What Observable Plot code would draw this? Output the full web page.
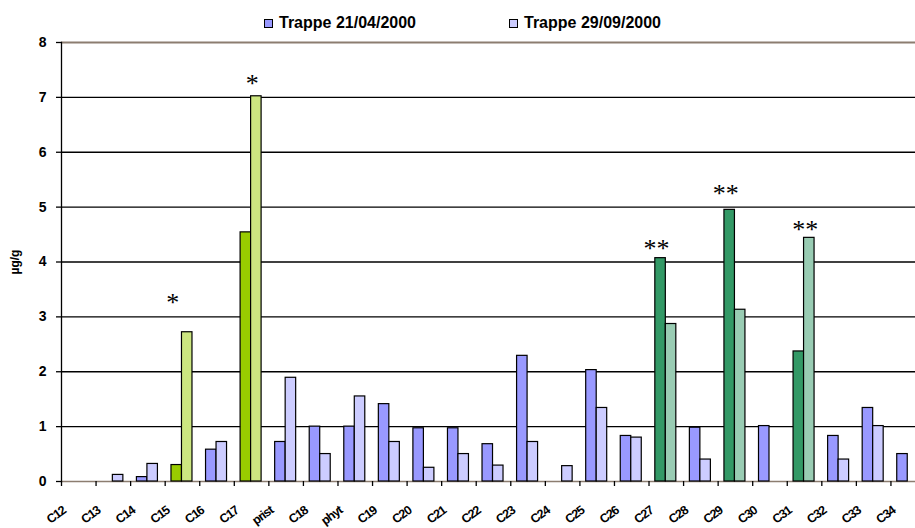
<!DOCTYPE html>
<html>
<head>
<meta charset="utf-8">
<script src="https://cdn.jsdelivr.net/npm/d3@7"></script>
<script src="https://cdn.jsdelivr.net/npm/@observablehq/plot@0.6"></script>
<style>
  html, body { margin: 0; padding: 0; background: #fff; }
  #wrap { position: relative; width: 915px; height: 528px; overflow: hidden; font-family: "Liberation Sans", Arial, sans-serif; }
  #chart { position: absolute; left: 0; top: 0; }
  .lg { position: absolute; top: 14px; font-weight: bold; font-size: 16px; color: #000; display: flex; align-items: center; white-space: nowrap; }
  .sw { display: inline-block; width: 7px; height: 7px; border: 1px solid #000; margin-right: 6px; }
</style>
</head>
<body>
<div id="wrap">
  <div id="chart"></div>
  <div id="legend"></div>
</div>
<script>
// ---- data ----
const categories = ["C12","C13","C14","C15","C16","C17","prist","C18","phyt","C19","C20","C21","C22","C23","C24","C25","C26","C27","C28","C29","C30","C31","C32","C33","C34"];
const seriesNames = ["Trappe 21/04/2000", "Trappe 29/09/2000"];
const april     = [0, 0,    0.08, 0.30, 0.58, 4.54, 0.72, 1.00, 1.00, 1.41, 0.97, 0.97, 0.68, 2.29, 0,    2.03, 0.83, 4.07, 0.98, 4.95, 1.01, 2.37, 0.83, 1.34, 0.50];
const september = [0, 0.12, 0.32, 2.72, 0.72, 7.02, 1.89, 0.50, 1.55, 0.72, 0.25, 0.50, 0.29, 0.72, 0.28, 1.34, 0.80, 2.87, 0.40, 3.13, 0,    4.44, 0.40, 1.01, 0];
const highlightGroup = {C15: "lime", C17: "lime", C27: "green", C29: "green", C31: "green"};
const yTicks = [0, 1, 2, 3, 4, 5, 6, 7, 8];
const starCategories = ["C15", "C17", "C27", "C29", "C31"];
const starSeries     = [0, 1, 0, 0, 1];
const starValues     = [3.34, 7.33, 4.32, 5.32, 4.66];
const starLabels     = ["*", "*", "**", "**", "**"];

// ---- styles ----
const palette = {
  blue:  ["#9999FF", "#CCCCFF"],
  lime:  ["#99CC00", "#CCE680"],
  green: ["#339966", "#99CCB3"]
};

const rows = categories.map((c, i) => ({
  category: c,
  group: highlightGroup[c] || "blue",
  v0: april[i],
  v1: september[i]
}));
const stars = starCategories.map((c, i) => ({category: c, series: starSeries[i], y: starValues[i], label: starLabels[i]}));

const W = 915, H = 528;
const ML = 61, MR = -10, MT = 42, MB = 47;
const step = (W - ML - MR) / categories.length;
const barW = 10.5, off0 = 6.3;
const inset0 = {insetLeft: off0, insetRight: step - off0 - barW};
const inset1 = {insetLeft: off0 + barW, insetRight: step - off0 - 2 * barW};
const center0 = off0 + barW / 2 - step / 2;
const center1 = off0 + barW * 1.5 - step / 2;
const serif = "'Liberation Serif', 'Times New Roman', serif";
const LABEL_ANGLE = -36;

const chart = Plot.plot({
  width: W, height: H,
  marginLeft: ML, marginRight: MR, marginTop: MT, marginBottom: MB,
  style: {fontFamily: "'Liberation Sans', Arial, sans-serif", fontWeight: "bold", fontSize: "14px", background: "transparent", overflow: "hidden"},
  x: {type: "band", domain: categories, paddingInner: 0, paddingOuter: 0, round: false, axis: null},
  y: {domain: [0, 8], axis: null},
  color: {type: "identity"},
  marks: [
    Plot.ruleY(yTicks.filter(t => t > 0 && t < 8), {stroke: "#000", strokeWidth: 1.3}),
    Plot.ruleY([8], {stroke: "#8c7d70", strokeWidth: 2}),
    Plot.ruleY([0], {stroke: "#8c7d70", strokeWidth: 1.5}),
    Plot.barY(rows.filter(d => d.v0 > 0), {x: "category", y: "v0", fill: d => palette[d.group][0], stroke: "#000", strokeWidth: 1.2, ...inset0}),
    Plot.barY(rows.filter(d => d.v1 > 0), {x: "category", y: "v1", fill: d => palette[d.group][1], stroke: "#000", strokeWidth: 1.2, ...inset1}),
    Plot.frame({anchor: "left", stroke: "#000", strokeWidth: 1.3}),
    Plot.axisY({ticks: yTicks, tickSize: 5, tickPadding: 10, fontSize: 14, label: null, stroke: "#000", strokeWidth: 1.3}),
    Plot.text(["µg/g"], {frameAnchor: "left", textAnchor: "middle", dx: -46, rotate: -90, fontSize: 12, fontWeight: "bold"}),
    // category boundary ticks below the axis
    Plot.tickX(categories, {x: d => d, dx: -step / 2, insetTop: H - MT - MB, insetBottom: -5, stroke: "#000", strokeWidth: 1.3}),
    // rotated category labels
    Plot.text(categories, {x: d => d, frameAnchor: "bottom", rotate: LABEL_ANGLE, textAnchor: "end", lineAnchor: "middle", dx: -14.5, dy: 27.5, fontSize: 12.5, fontWeight: "bold"}),
    Plot.text(stars.filter(d => d.series === 0), {x: "category", y: "y", text: "label", dx: center0 - 4, dy: 4, fontFamily: serif, fontSize: 26, fontWeight: "normal", fill: "#000"}),
    Plot.text(stars.filter(d => d.series === 1), {x: "category", y: "y", text: "label", dx: center1 - 4, dy: 4, fontFamily: serif, fontSize: 26, fontWeight: "normal", fill: "#000"})
  ]
});

// tighten the category labels and make sure they carry their rotation
const catSet = new Set(categories);
d3.select(chart).selectAll("text").each(function () {
  if (catSet.has(this.textContent)) {
    const t = this.getAttribute("transform") || "";
    if (!/rotate/.test(t)) {
      const x = this.getAttribute("x"), y = this.getAttribute("y");
      if (x != null || y != null) {
        this.removeAttribute("x"); this.removeAttribute("y");
        this.setAttribute("transform", `translate(${x || 0},${y || 0}) rotate(${LABEL_ANGLE})`);
      } else {
        this.setAttribute("transform", `${t} rotate(${LABEL_ANGLE})`);
      }
    }
    this.style.letterSpacing = "-1px";
  }
});
document.getElementById("chart").appendChild(chart);

// legend
const legend = document.getElementById("legend");
const legendLeft = [264, 509];
seriesNames.forEach((name, i) => {
  const item = document.createElement("div");
  item.className = "lg";
  item.style.left = legendLeft[i] + "px";
  const sw = document.createElement("span");
  sw.className = "sw";
  sw.style.background = palette.blue[i];
  item.appendChild(sw);
  item.appendChild(document.createTextNode(name));
  legend.appendChild(item);
});
</script>
</body>
</html>
